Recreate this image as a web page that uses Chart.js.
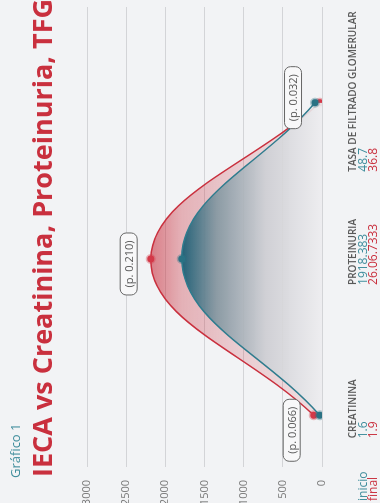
<!DOCTYPE html>
<html>
<head>
<meta charset="utf-8">
<script src="https://cdn.jsdelivr.net/npm/chart.js@4.4.1/dist/chart.umd.min.js"></script>
<style>
  html, body { margin: 0; padding: 0; background: #f2f3f5; overflow: hidden; }
  /* el grafico se dibuja apaisado y se gira 90 grados */
  #wrap { position: absolute; left: 0; top: 0; width: 503px; height: 380px;
          transform-origin: 0 0; transform: translateY(503px) rotate(-90deg); }
</style>
</head>
<body>
<div id="wrap"><canvas id="grafico" width="503" height="380"></canvas></div>
<script>
// Datos del grafico
const categorias = ['CREATININA', 'PROTEINURIA', 'TASA DE FILTRADO GLOMERULAR']
const valoresInicio = [29, 1790, 89]
const valoresFinal = [106, 2187, 29]
const textoInicio = ['1.6', '1918.383', '48.7']
const textoFinal = ['1.9', '26.06.7333', '36.8']
const pValores = ['(p. 0.066)', '(p. 0.210)', '(p. 0.032)']
const ticksY = [0, 500, 1000, 1500, 2000, 2500, 3000]

const ROJO = '#c9303e'
const AZUL = '#2f7c8e'
const FUENTE = '"Open Sans", sans-serif'

// degradados de relleno
function rellenoFinal(context) {
  const chart = context.chart
  const area = chart.chartArea
  if (!area) return 'rgba(201,48,62,0.3)'
  const top = chart.scales.y.getPixelForValue(Math.max(...valoresFinal))
  const g = chart.ctx.createLinearGradient(0, top, 0, area.bottom)
  g.addColorStop(0, 'rgba(201,48,62,0.6)')
  g.addColorStop(0.18, 'rgba(201,48,62,0.34)')
  g.addColorStop(0.5, 'rgba(201,48,62,0.2)')
  g.addColorStop(1, 'rgba(201,48,62,0.1)')
  return g
}
function rellenoInicio(context) {
  const chart = context.chart
  const area = chart.chartArea
  if (!area) return 'rgba(47,124,142,0.3)'
  const top = chart.scales.y.getPixelForValue(Math.max(...valoresInicio))
  const g = chart.ctx.createLinearGradient(0, top, 0, area.bottom)
  g.addColorStop(0, 'rgba(36,98,120,1)')
  g.addColorStop(0.25, 'rgba(130,150,160,0.9)')
  g.addColorStop(0.6, 'rgba(205,208,212,0.9)')
  g.addColorStop(1, 'rgba(238,239,241,0.9)')
  return g
}

// titulos, etiquetas de categoria y cajas de p
const textos = {
  id: 'textos',
  afterDraw(chart) {
    const { ctx } = chart
    const x = chart.scales.x
    const y = chart.scales.y
    ctx.save()
    ctx.textBaseline = 'alphabetic'
    ctx.textAlign = 'left'

    ctx.fillStyle = '#3f8d9c'
    ctx.font = '13px ' + FUENTE
    ctx.fillText('Gráfico 1', 25, 20)
    ctx.fillStyle = ROJO
    ctx.font = 'bold 27px ' + FUENTE
    ctx.fillText('IECA vs Creatinina, Proteinuria, TFG', 26, 52)

    // leyenda de filas
    ctx.font = '12px ' + FUENTE
    ctx.fillStyle = '#3f8d9c'
    ctx.fillText('inicio', 2, 367)
    ctx.fillStyle = ROJO
    ctx.fillText('final', 2, 377)

    const desplaza = [-23, -26, -69]
    categorias.forEach((c, i) => {
      const left = x.getPixelForValue(i) + desplaza[i]
      ctx.font = '600 10px ' + FUENTE
      ctx.fillStyle = '#5a5a5a'
      ctx.fillText(c, left, 356)
      ctx.font = '12px ' + FUENTE
      ctx.fillStyle = '#3f8d9c'
      ctx.fillText(textoInicio[i], left, 367)
      ctx.fillStyle = ROJO
      ctx.fillText(textoFinal[i], left, 377)
    })

    // cajas de p
    const dxCaja = [-15, -5, 5]
    ctx.font = '11px ' + FUENTE
    ctx.textAlign = 'center'
    ctx.textBaseline = 'middle'
    pValores.forEach((p, i) => {
      const cx = x.getPixelForValue(i) + dxCaja[i]
      const cy = y.getPixelForValue(Math.max(valoresInicio[i], valoresFinal[i])) - 22
      const w = 62, h = 17
      ctx.beginPath()
      ctx.roundRect(cx - w / 2, cy - h / 2, w, h, 6)
      ctx.fillStyle = '#f8f8f9'
      ctx.fill()
      ctx.strokeStyle = '#666'
      ctx.lineWidth = 1
      ctx.stroke()
      ctx.fillStyle = '#555'
      ctx.fillText(p, cx, cy + 1)
    })
    ctx.restore()
  }
}

new Chart(document.getElementById('grafico'), {
  type: 'line',
  plugins: [textos],
  data: {
    datasets: [
      {
        label: 'inicio',
        data: valoresInicio.map((v, i) => ({ x: i, y: v })),
        borderColor: AZUL,
        borderWidth: 1.5,
        backgroundColor: rellenoInicio,
        fill: 'origin',
        tension: 0.4,
        pointRadius: 3.5,
        pointBackgroundColor: '#2a7284',
        pointBorderColor: 'rgba(42,114,132,0.35)',
        pointBorderWidth: 3
      },
      {
        label: 'final',
        data: valoresFinal.map((v, i) => ({ x: i, y: v })),
        borderColor: ROJO,
        borderWidth: 1.5,
        backgroundColor: rellenoFinal,
        fill: 'origin',
        tension: 0.4,
        pointRadius: 3.5,
        pointBackgroundColor: '#d43848',
        pointBorderColor: 'rgba(212,56,72,0.35)',
        pointBorderWidth: 3
      }
    ]
  },
  options: {
    responsive: false,
    animation: false,
    layout: { padding: { left: 0, right: 2, top: 87, bottom: 58 } },
    plugins: { legend: { display: false }, tooltip: { enabled: false } },
    scales: {
      x: { type: 'linear', min: -0.331, max: 2.612, display: false },
      y: {
        min: 0,
        max: 3000,
        afterBuildTicks: s => { s.ticks = ticksY.map(v => ({ value: v })) },
        afterFit: s => { s.width = 36 },
        border: { display: false },
        grid: { color: '#d3d4d7', drawTicks: false },
        ticks: {
          padding: 13,
          color: '#777',
          font: { family: 'Open Sans', size: 11 },
          callback: v => String(v)
        }
      }
    }
  }
})
</script>
</body>
</html>
